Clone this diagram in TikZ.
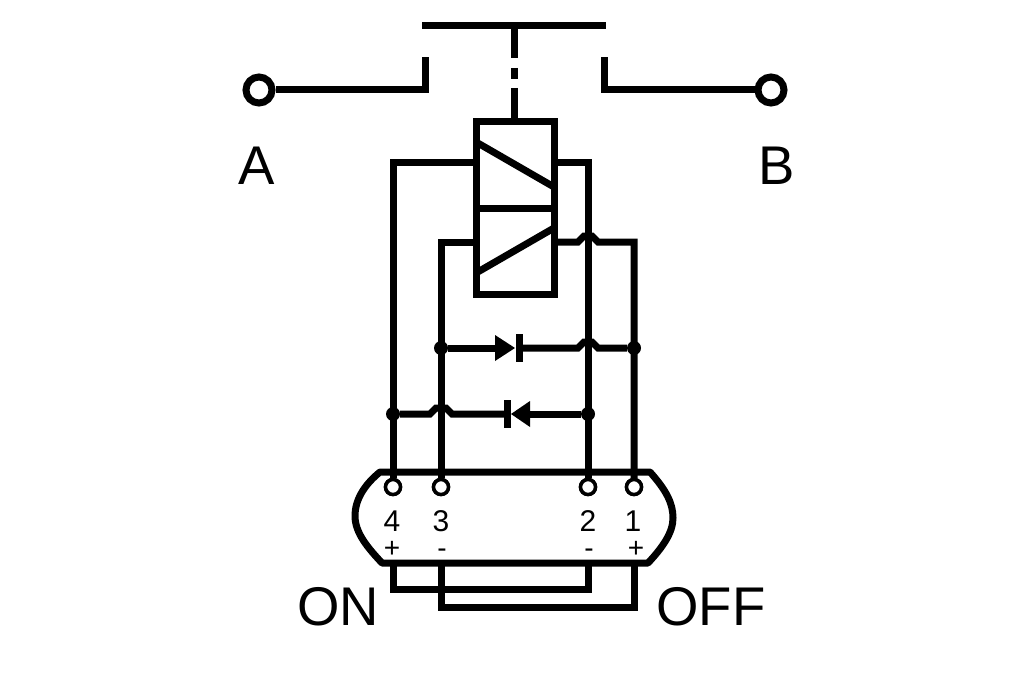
\documentclass[tikz,border=0pt]{standalone}
\usepackage{fontspec}
\setmainfont{Liberation Sans}
\begin{document}
\begin{tikzpicture}[x=1pt,y=-1pt,
  wire/.style={line width=7pt,line join=miter,line cap=butt},
  term/.style={circle,draw,line width=7pt,fill=white,minimum size=26pt,inner sep=0pt},
  pin/.style={circle,draw,line width=3.5pt,fill=white,minimum size=15pt,inner sep=0pt},
  dot/.style={circle,fill=black,minimum size=14pt,inner sep=0pt},
  big/.style={font=\fontsize{54.5pt}{54.5pt}\selectfont,inner sep=0pt,anchor=base},
  num/.style={font=\fontsize{30pt}{30pt}\selectfont,inner sep=0pt,anchor=base},
  sign/.style={font=\fontsize{28pt}{28pt}\selectfont,inner sep=0pt,anchor=base}]
\useasboundingbox (0,0) rectangle (1024,682);
\fill[white] (0,0) rectangle (1024,682);
% contact
\coordinate (barL) at (422,25.5); \coordinate (barR) at (606,25.5);
\draw[line width=7pt] (barL) -- (barR);
\draw[wire] (514,25) -- (514,58);
\draw[wire] (514,68) -- (514,79);
\draw[wire] (514,88) -- (514,121);
\node[term] (A) at (259,90) {};
\node[term] (B) at (771,90) {};
\coordinate (cA) at (425,90); \coordinate (cAt) at (425,57);
\coordinate (cB) at (604,90); \coordinate (cBt) at (604,57);
\draw[wire] (A) -- (cA) -- (cAt);
\draw[wire] (B) -- (cB) -- (cBt);
\node[big] (lA) at (257,184) {A};
\node[big] (lB) at (777,184) {B};
% coil
\coordinate (bTL) at (476,121); \coordinate (bTR) at (554,121);
\coordinate (bBL) at (476,294); \coordinate (bBR) at (554,294);
\draw[wire] (bTL) -- (bTR) -- (bBR) -- (bBL) -- cycle;
\draw[wire] (476,208) -- (554,208);
\draw[wire] (476,142) -- (554,187);
\draw[wire] (476,273) -- (554,228);
% pins
\node[pin] (p4) at (393,487) {};
\node[pin] (p3) at (441,487) {};
\node[pin] (p2) at (588,487) {};
\node[pin] (p1) at (634,487) {};
% wires
\draw[wire] (p4.north) -- (393,162) -- (476,162);
\draw[wire] (p2.north) -- (588,162) -- (554,162);
\draw[wire] (p3.north) -- (441,242) -- (476,242);
\draw[wire] (p1.north) -- (634,242) -- (598,242) -- (592,236) -- (584,236) -- (578,242) -- (554,242);
% diode row 1
\node[dot] (d3) at (441,348) {};
\node[dot] (d1) at (634,348) {};
\draw[wire] (d3) -- (495,348);
\draw[wire] (519,348) -- (578,348) -- (584,342) -- (592,342) -- (598,348) -- (d1);
\fill (495,335) -- (515,348) -- (495,361) -- cycle;
\fill (515.5,334) rectangle (522.5,362);
% diode row 2
\node[dot] (d4) at (393,414) {};
\node[dot] (d2) at (588,414) {};
\draw[wire] (d4) -- (430,414) -- (436,408) -- (446,408) -- (452,414) -- (507,414);
\draw[wire] (530,414) -- (d2);
\fill (530,401) -- (511,414) -- (530,427) -- cycle;
\fill (503.5,400) rectangle (510.5,428);
% connector body
\draw[wire,line join=round] (380,472) -- (650,472)
  .. controls (666,490) and (673,503) .. (673,518)
  .. controls (673,533) and (662,548) .. (648,563)
  -- (382,563)
  .. controls (368,548) and (355,533) .. (355,516)
  .. controls (355,500) and (364,485) .. (380,472) -- cycle;
\node[pin] at (p4) {};
\node[pin] at (p3) {};
\node[pin] at (p2) {};
\node[pin] at (p1) {};
\node[num] at (392,531) {4};
\node[num] at (441,531) {3};
\node[num] at (588,531) {2};
\node[num] at (633,531) {1};
\node[sign] at (392,557) {+};
\node[sign] at (442,557) {-};
\node[sign] at (589,557) {-};
\node[sign] at (636,557) {+};
% jumpers
\draw[wire] (393,563) -- (393,589) -- (588,589) -- (588,563);
\draw[wire] (441,563) -- (441,607) -- (634,607) -- (634,563);
\node[big] at (338,625) {ON};
\node[big] at (711,625) {OFF};
\end{tikzpicture}
\end{document}
